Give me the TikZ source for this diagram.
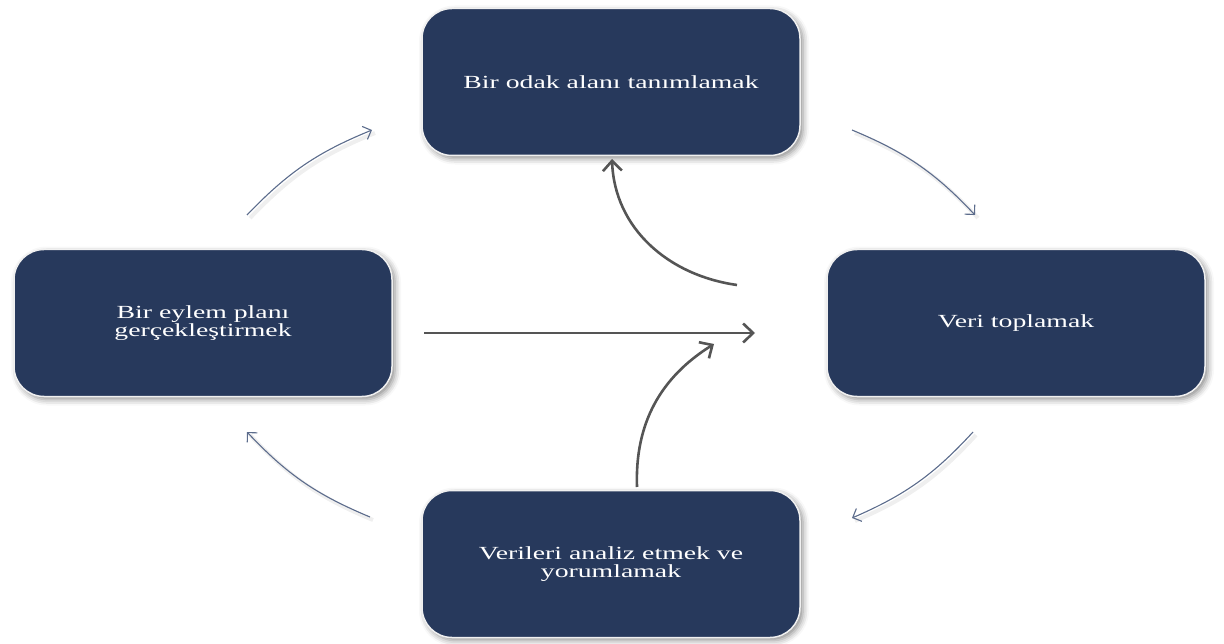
\documentclass[tikz,border=0pt]{standalone}
\usepackage{fontspec}
\setmainfont{Liberation Serif}[FakeStretch=1.5]
\usepackage{tikz}
\usetikzlibrary{arrows.meta,shadows.blur}
\definecolor{boxblue}{RGB}{39,57,92}
\definecolor{cyclecol}{RGB}{92,108,140}
\definecolor{centercol}{RGB}{85,85,85}
\newcommand{\boxw}{378pt}
\newcommand{\boxh}{147pt}

\begin{document}
\begin{tikzpicture}[x=1pt, y=1pt]
                %\draw[help lines] (0,0) grid (1224,-644);
                \useasboundingbox (0,0) rectangle (1224,-644);
                \tikzset{stepbox/.style = {rectangle, rounded corners=30pt, fill=boxblue, draw=gray!12, line width=1.5pt,
                                minimum width=\boxw, minimum height=\boxh, text=white, align=center,
                                font=\fontsize{18.5}{17.5}\selectfont,
                                blur shadow={shadow xshift=3pt, shadow yshift=-3pt, shadow blur radius=6pt, shadow opacity=45}},
                        cyclearrow/.style = {draw=cyclecol, line width=1.1pt, -{Straight Barb[length=7pt, width=14pt]},
                                preaction={draw=black!25, line width=4pt, opacity=0.25, -, transform canvas={shift={(3pt,-3pt)}}}},
                        centerarrow/.style = {draw=centercol, line width=2.6pt, -{Straight Barb[length=10pt, width=19pt]}}}
                \node[stepbox] (odak) at (611,-82) {Bir odak alanı tanımlamak};
                \node[stepbox] (veri) at (1016,-323) {Veri toplamak};
                \node[stepbox] (analiz) at (611,-564) {Verileri analiz etmek ve\\yorumlamak};
                \node[stepbox] (eylem) at (203,-323) {Bir eylem planı\\gerçekleştirmek};
                % cycle arrows
                \coordinate (tlA) at (247,-215); \coordinate (tlB) at (372,-130);
                \coordinate (trA) at (852,-130); \coordinate (trB) at (975,-215);
                \coordinate (brA) at (973,-432); \coordinate (brB) at (852,-518);
                \coordinate (blA) at (370,-517); \coordinate (blB) at (247,-432);
                \draw[cyclearrow] (tlA) to[bend left=12] (tlB);
                \draw[cyclearrow] (trA) to[bend left=12] (trB);
                \draw[cyclearrow] (brA) to[bend left=12] (brB);
                \draw[cyclearrow] (blA) to[bend left=12] (blB);
                % centre arrows
                \coordinate (hA) at (424,-333); \coordinate (hB) at (755,-333);
                \coordinate (upA) at (737,-285); \coordinate (upB) at (612,-159);
                \coordinate (lowA) at (637,-487); \coordinate (lowB) at (714,-344);
                \draw[centerarrow] (hA) -- (hB);
                \draw[centerarrow] (upA) to[out=172, in=-88] (upB);
                \draw[centerarrow] (lowA) to[out=92, in=212] (lowB);
        \end{tikzpicture}
\end{document}
